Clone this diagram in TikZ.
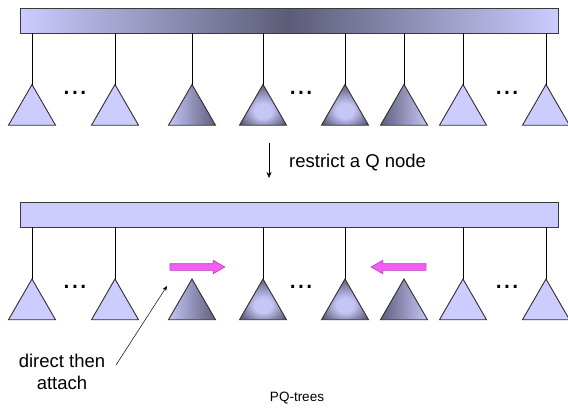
\documentclass[tikz,border=0pt]{standalone}
\usepackage{fontspec}
\setmainfont{Liberation Sans}
\usetikzlibrary{shapes.geometric,shapes.arrows,arrows.meta}

\definecolor{lav}{HTML}{CCCCFF}
\definecolor{lavdark}{HTML}{5C5C78}
\definecolor{trilight}{HTML}{C6C6F6}
\definecolor{tridark}{HTML}{5E5E7C}
\definecolor{triedge}{HTML}{2E2E2E}
\definecolor{baredge}{HTML}{3A3A3A}
\definecolor{mag}{HTML}{F55EF5}
\definecolor{magedge}{HTML}{B83AB8}

% light centre, darker rim: a bevelled subtree
\pgfdeclareradialshading{bevel}{\pgfpoint{0bp}{-9bp}}{%
  color(0bp)=(trilight); color(9bp)=(trilight);
  color(29bp)=(tridark); color(50bp)=(tridark)}

\tikzset{
  tri/.style={regular polygon, regular polygon sides=3, minimum size=54.3bp,
    inner sep=0pt, outer sep=0pt, draw=triedge, line width=0.9bp, anchor=corner 1},
  plaintri/.style={tri, fill=lav},
  rampdown/.style={tri, left color=trilight, right color=tridark},
  rampup/.style={tri, left color=tridark, right color=trilight},
  pyramid/.style={tri, shading=bevel},
  qbar/.style={rectangle, minimum width=538bp, minimum height=25bp,
    inner sep=0pt, outer sep=0pt, draw=baredge, line width=0.9bp},
  edge/.style={line width=0.8bp, black},
  dots/.style={font=\fontsize{30bp}{30bp}\selectfont, inner sep=0pt},
  label/.style={font=\fontsize{18.5bp}{22bp}\selectfont, inner sep=0pt},
  marrow/.style={single arrow, draw=magedge, fill=mag, line width=0.6bp,
    minimum height=55bp, inner xsep=0pt, inner ysep=3bp,
    single arrow head extend=3.5bp, single arrow tip angle=60, outer sep=0pt},
}

\begin{document}
\begin{tikzpicture}[x=1bp, y=-1bp]
  \useasboundingbox (0,0) rectangle (568,407);

  % ---- upper Q node with its children
  \node[qbar, left color=lav, right color=lav, middle color=lavdark] (qtop) at (289,20.5) {};
  \node[plaintri] (t1) at (32,84.5) {};
  \node[plaintri] (t2) at (115,84.5) {};
  \node[rampdown] (t3) at (192,84.5) {};
  \node[pyramid]  (t4) at (263,84.5) {};
  \node[pyramid]  (t5) at (345,84.5) {};
  \node[rampup]   (t6) at (404,84.5) {};
  \node[plaintri] (t7) at (463,84.5) {};
  \node[plaintri] (t8) at (546,84.5) {};
  \foreach \t in {t1,t2,t3,t4,t5,t6,t7,t8}
    \draw[edge] (\t.corner 1) -- (\t.corner 1 |- qtop.south);
  \node[dots] (d1) at (75,93) {...};
  \node[dots] (d2) at (301,93) {...};
  \node[dots] (d3) at (507,93) {...};

  % ---- the restriction step
  \coordinate (r1) at (269,143);
  \coordinate (r2) at (269,178);
  \draw[line width=0.6bp, -{Stealth[length=6bp, width=5bp]}] (r1) -- (r2);
  \node[label, anchor=west] (restrict) at (289,163) {restrict a Q node};

  % ---- lower Q node after restriction
  \node[qbar, fill=lav] (qbot) at (289,214.5) {};
  \node[plaintri] (b1) at (32,279) {};
  \node[plaintri] (b2) at (115,279) {};
  \node[rampdown] (b3) at (192,279) {};
  \node[pyramid]  (b4) at (263,279) {};
  \node[pyramid]  (b5) at (345,279) {};
  \node[rampup]   (b6) at (404,279) {};
  \node[plaintri] (b7) at (463,279) {};
  \node[plaintri] (b8) at (546,279) {};
  \foreach \t in {b1,b2,b4,b5,b7,b8}
    \draw[edge] (\t.corner 1) -- (\t.corner 1 |- qbot.south);
  \node[dots] (e1) at (75,287) {...};
  \node[dots] (e2) at (301,287) {...};
  \node[dots] (e3) at (507,287) {...};

  % ---- the two end subtrees move in and attach
  \node[marrow] (mright) at (194.5,267) {};
  \node[marrow, shape border rotate=180] (mleft) at (401.5,267) {};

  % ---- annotation
  \node[label, align=center] (note) at (62,372) {direct then\\attach};
  \coordinate (ptail) at (116,365);
  \coordinate (ptip) at (167,286);
  \draw[line width=0.5bp, -{Stealth[length=5bp, width=4bp]}] (ptail) -- (ptip);

  \node[font=\fontsize{13.5bp}{16bp}\selectfont, inner sep=0pt] (caption) at (297,398) {PQ-trees};
\end{tikzpicture}
\end{document}
